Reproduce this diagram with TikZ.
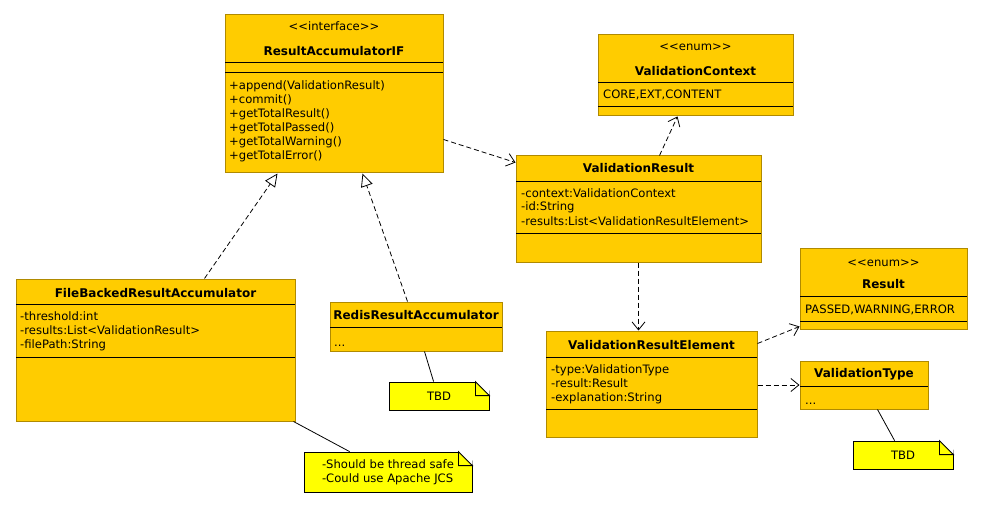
\documentclass[tikz,border=0pt]{standalone}
\usepackage{fontspec}
\setmainfont{DejaVu Sans}[Ligatures=TeXOff]
\usetikzlibrary{arrows.meta}

\definecolor{clsfill}{HTML}{FFCC00}
\definecolor{clsborder}{HTML}{B08A00}
\definecolor{notefill}{HTML}{FFFF00}

\tikzset{
    cls/.style={draw=clsborder, line width=1pt, fill=clsfill, inner sep=0pt},
    note/.style={draw, line width=0.8pt, fill=notefill, inner sep=0pt, align=left},
    compart/.style={line width=1pt},
    txt/.style={anchor=base west, inner sep=0pt},
    ctxt/.style={anchor=base, inner sep=0pt},
    cname/.style={anchor=base, inner sep=0pt, font=\fontsize{12}{14}\selectfont\bfseries},
    dep/.style={line width=0.8pt, dash pattern=on 5pt off 3pt, -{Straight Barb[length=8pt, width=13pt]}},
    real/.style={line width=0.8pt, dash pattern=on 5pt off 3pt, -{Triangle[open, length=13pt, width=12pt, fill=white]}},
    link/.style={line width=0.8pt}
}

\begin{document}
\begin{tikzpicture}[x=1pt, y=-1pt, font=\fontsize{11.6}{14}\selectfont]
    \useasboundingbox (0,0) rectangle (983,508);

    % interface
    \node[cls, minimum width=218pt, minimum height=158pt] (ifc) at (334,94) {};
        \node[ctxt] (ifcst) at (334,31) {<<interface>>};
        \node[cname] (ifcname) at (334,56) {ResultAccumulatorIF};
    \draw[compart] (225,63) -- (443,63);
    \draw[compart] (225,73) -- (443,73);
        \node[txt] (op1) at (229,90) {+append(ValidationResult)};
        \node[txt] (op2) at (229,104) {+commit()};
        \node[txt] (op3) at (229,118) {+getTotalResult()};
        \node[txt] (op4) at (229,132) {+getTotalPassed()};
        \node[txt] (op5) at (229,146) {+getTotalWarning()};
        \node[txt] (op6) at (229,160) {+getTotalError()};

    % enum context
    \node[cls, minimum width=195pt, minimum height=81pt] (vc) at (695.5,75.5) {};
        \node[ctxt] (vcst) at (695.5,51) {<<enum>>};
        \node[cname] (vcname) at (695.5,76) {ValidationContext};
    \draw[compart] (598,83) -- (793,83);
        \node[txt] (vcval) at (603,99) {CORE,EXT,CONTENT};
    \draw[compart] (598,107) -- (793,107);

    % result
    \node[cls, minimum width=245pt, minimum height=106pt] (vr) at (638.5,209) {};
        \node[cname] (vrname) at (638.5,173) {ValidationResult};
    \draw[compart] (516,182) -- (761,182);
        \node[txt] (vra1) at (521,197) {-context:ValidationContext};
        \node[txt] (vra2) at (521,211) {-id:String};
        \node[txt] (vra3) at (521,225) {-results:List<ValidationResultElement>};
    \draw[compart] (516,233) -- (761,233);

    % file backed
    \node[cls, minimum width=279pt, minimum height=142pt] (fb) at (155.5,350) {};
        \node[cname] (fbname) at (155.5,297) {FileBackedResultAccumulator};
    \draw[compart] (16,304) -- (295,304);
        \node[txt] (fba1) at (20,320) {-threshold:int};
        \node[txt] (fba2) at (20,334) {-results:List<ValidationResult>};
        \node[txt] (fba3) at (20,348) {-filePath:String};
    \draw[compart] (16,357) -- (295,357);

    % redis
    \node[cls, minimum width=172pt, minimum height=49pt] (redis) at (416,326.5) {};
        \node[cname] (redisname) at (416,319) {RedisResultAccumulator};
    \draw[compart] (330,327) -- (502,327);
        \node[txt] (redisdots) at (334,346) {...};

    % enum result
    \node[cls, minimum width=167pt, minimum height=81pt] (res) at (883.5,288.5) {};
        \node[ctxt] (resst) at (883.5,266) {<<enum>>};
        \node[cname] (resname) at (883.5,288) {Result};
    \draw[compart] (800,296) -- (967,296);
        \node[txt] (resval) at (805,313) {PASSED,WARNING,ERROR};
    \draw[compart] (800,321) -- (967,321);

    % element
    \node[cls, minimum width=211pt, minimum height=106pt] (vre) at (651.5,384) {};
        \node[cname] (vrename) at (651.5,349) {ValidationResultElement};
    \draw[compart] (546,357) -- (757,357);
        \node[txt] (vrea1) at (551,373) {-type:ValidationType};
        \node[txt] (vrea2) at (551,387) {-result:Result};
        \node[txt] (vrea3) at (551,401) {-explanation:String};
    \draw[compart] (546,409) -- (757,409);

    % type
    \node[cls, minimum width=128pt, minimum height=48pt] (vt) at (864,385) {};
        \node[cname] (vtname) at (864,377) {ValidationType};
    \draw[compart] (800,386) -- (928,386);
        \node[txt] (vtdots) at (805,404) {...};

    % notes
    \node[note, minimum width=100pt, minimum height=28pt] (tbd1) at (439,396) {TBD};
    \fill[white] ([xshift=-14pt]tbd1.north east) -- ([xshift=1pt,yshift=1pt]tbd1.north east) -- ([yshift=-14pt]tbd1.north east) -- cycle;
    \draw[link] ([xshift=-14pt]tbd1.north east) -- ([yshift=-14pt]tbd1.north east) -- ([xshift=-14pt,yshift=-14pt]tbd1.north east) -- cycle;

    \node[note, minimum width=168pt, minimum height=40pt] (jcs) at (388,472) {-Should be thread safe\\-Could use Apache JCS};
    \fill[white] ([xshift=-14pt]jcs.north east) -- ([xshift=1pt,yshift=1pt]jcs.north east) -- ([yshift=-14pt]jcs.north east) -- cycle;
    \draw[link] ([xshift=-14pt]jcs.north east) -- ([yshift=-14pt]jcs.north east) -- ([xshift=-14pt,yshift=-14pt]jcs.north east) -- cycle;

    \node[note, minimum width=100pt, minimum height=28pt] (tbd2) at (903,455) {TBD};
    \fill[white] ([xshift=-14pt]tbd2.north east) -- ([xshift=1pt,yshift=1pt]tbd2.north east) -- ([yshift=-14pt]tbd2.north east) -- cycle;
    \draw[link] ([xshift=-14pt]tbd2.north east) -- ([yshift=-14pt]tbd2.north east) -- ([xshift=-14pt,yshift=-14pt]tbd2.north east) -- cycle;

    % realizations
    \draw[real] ([xshift=189pt]fb.north west) -- ([xshift=53pt]ifc.south west);
    \draw[real] ([xshift=78pt]redis.north west) -- ([xshift=138pt]ifc.south west);

    % dependencies
    \draw[dep] ([yshift=-125pt]ifc.north east) -- ([yshift=-7pt]vr.north west);
    \draw[dep] ([xshift=144pt]vr.north west) -- ([xshift=80pt]vc.south west);
    \draw[dep] (vr.south) -- (vr.south |- vre.north);
    \draw[dep] ([yshift=-13pt]vre.north east) -- ([yshift=3pt]res.south west);
    \draw[dep] (vt.west -| vre.east) -- (vt.west);

    % note links
    \draw[link] ([xshift=95pt]redis.south west) -- ([xshift=45pt]tbd1.north west);
    \draw[link] ([xshift=-2pt]fb.south east) -- ([xshift=46pt]jcs.north west);
    \draw[link] ([xshift=78pt]vt.south west) -- ([xshift=42pt]tbd2.north west);

\end{tikzpicture}
\end{document}
